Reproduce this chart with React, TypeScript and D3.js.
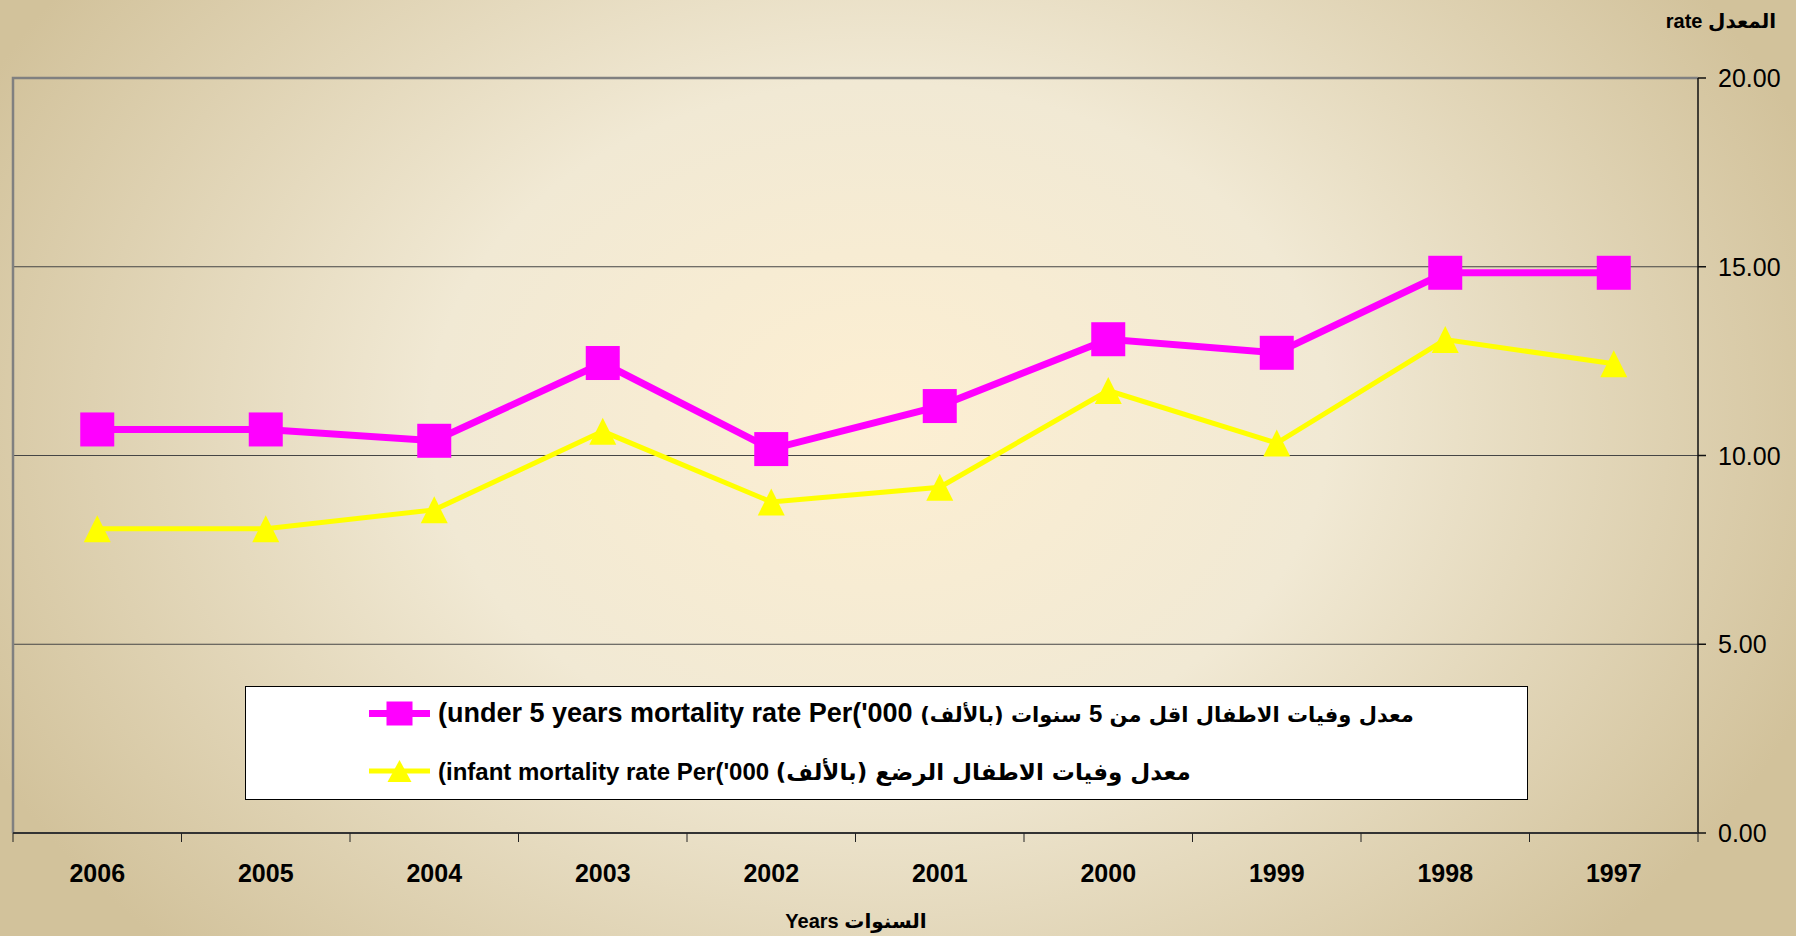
import { useEffect, useRef } from "react";
import * as d3 from "d3";

// years run right-to-left in the source (newest first on the left)
const years = ["2006", "2005", "2004", "2003", "2002", "2001", "2000", "1999", "1998", "1997"];
const under5 = [10.69, 10.69, 10.39, 12.45, 10.17, 11.31, 13.08, 12.72, 14.84, 14.84];
const infant = [8.06, 8.06, 8.56, 10.64, 8.77, 9.16, 11.72, 10.33, 13.07, 12.43];
const yTicks = [0, 5, 10, 15, 20];

// legend text pieces, in the visual order of the original (english run first, arabic run after)
const under5En = "(under 5 years mortality rate Per('000 ";
const under5Ar = ["معدل وفيات الاطفال اقل من ", "5", " سنوات (بالألف)"];
const infantEn = "(infant mortality rate Per('000 ";
const infantAr = ["معدل وفيات الاطفال الرضع (بالألف)"];
const yTitle = "rate المعدل";
const xTitle = "Years السنوات";

const W = 1796;
const H = 936;
const FONT = "'Liberation Sans', Arial, 'DejaVu Sans', sans-serif";
const AR_FONT = "'DejaVu Sans', sans-serif";

const App = () => {
  const svgRef = useRef(null);

  useEffect(() => {
    const svg = d3.select(svgRef.current);
    svg.selectAll("*").remove();

    const left = 13;
    const right = 1698;
    const top = 78;
    const bottom = 833;

    const x = d3.scaleBand().domain(years).range([left, right]);
    const y = d3.scaleLinear().domain([0, 20]).range([bottom, top]);
    const cx = (d) => x(d) + x.bandwidth() / 2;

    // background gradient
    const defs = svg.append("defs");
    const grad = defs
      .append("radialGradient")
      .attr("id", "bg")
      .attr("gradientUnits", "userSpaceOnUse")
      .attr("cx", 880)
      .attr("cy", 420)
      .attr("r", 1000)
      .attr("gradientTransform", "translate(880,420) scale(1,0.75) translate(-880,-420)");
    grad.append("stop").attr("offset", 0).attr("stop-color", "#fdefd2");
    grad.append("stop").attr("offset", 0.45).attr("stop-color", "#f1e9d4");
    grad.append("stop").attr("offset", 1).attr("stop-color", "#d2c29b");

    svg.append("rect").attr("width", W).attr("height", H).attr("fill", "url(#bg)");

    // gridlines
    svg
      .selectAll(".grid")
      .data([5, 10, 15])
      .enter()
      .append("line")
      .attr("x1", left)
      .attr("x2", right)
      .attr("y1", (d) => y(d))
      .attr("y2", (d) => y(d))
      .attr("stroke", "#454545")
      .attr("stroke-width", 1);

    // plot border (top / left)
    svg
      .append("path")
      .attr("d", `M${left},${bottom} V${top} H${right}`)
      .attr("fill", "none")
      .attr("stroke", "#808080")
      .attr("stroke-width", 2.5);

    // right value axis
    svg
      .append("line")
      .attr("x1", right)
      .attr("x2", right)
      .attr("y1", top)
      .attr("y2", bottom)
      .attr("stroke", "#111")
      .attr("stroke-width", 1.5);
    const yAx = svg.append("g");
    yAx
      .selectAll("line")
      .data(yTicks)
      .enter()
      .append("line")
      .attr("x1", right)
      .attr("x2", right + 8)
      .attr("y1", (d) => y(d))
      .attr("y2", (d) => y(d))
      .attr("stroke", "#111")
      .attr("stroke-width", 1.5);
    yAx
      .selectAll("text")
      .data(yTicks)
      .enter()
      .append("text")
      .attr("x", 1718)
      .attr("y", (d) => y(d))
      .attr("dy", "0.36em")
      .attr("font-family", FONT)
      .attr("font-size", 25)
      .attr("fill", "#000")
      .text((d) => d3.format(".2f")(d));

    // category axis at bottom
    svg
      .append("line")
      .attr("x1", left)
      .attr("x2", right)
      .attr("y1", bottom)
      .attr("y2", bottom)
      .attr("stroke", "#333")
      .attr("stroke-width", 2);
    const xAx = svg.append("g");
    xAx
      .selectAll("line")
      .data(years.concat(["end"]))
      .enter()
      .append("line")
      .attr("x1", (d, i) => left + i * x.bandwidth())
      .attr("x2", (d, i) => left + i * x.bandwidth())
      .attr("y1", bottom)
      .attr("y2", bottom + 9)
      .attr("stroke", "#222")
      .attr("stroke-width", 1);
    xAx
      .selectAll("text")
      .data(years)
      .enter()
      .append("text")
      .attr("x", cx)
      .attr("y", 873)
      .attr("dy", "0.36em")
      .attr("text-anchor", "middle")
      .attr("font-family", FONT)
      .attr("font-size", 25)
      .attr("font-weight", "bold")
      .text((d) => d);

    // axis titles
    svg
      .append("text")
      .attr("x", 856)
      .attr("y", 921)
      .attr("dy", "0.36em")
      .attr("text-anchor", "middle")
      .attr("font-family", FONT)
      .attr("font-size", 20)
      .attr("font-weight", "bold")
      .text(xTitle);
    svg
      .append("text")
      .attr("x", 1776)
      .attr("y", 28)
      .attr("text-anchor", "end")
      .attr("font-family", FONT)
      .attr("font-size", 20)
      .attr("font-weight", "bold")
      .text(yTitle);

    const line = d3
      .line()
      .x((d, i) => cx(years[i]))
      .y((d) => y(d));

    // under 5 series
    svg
      .append("path")
      .attr("d", line(under5))
      .attr("fill", "none")
      .attr("stroke", "#ff00ff")
      .attr("stroke-width", 7);
    svg
      .selectAll(".sq")
      .data(under5)
      .enter()
      .append("rect")
      .attr("x", (d, i) => cx(years[i]) - 17)
      .attr("y", (d) => y(d) - 17)
      .attr("width", 34)
      .attr("height", 34)
      .attr("fill", "#ff00ff");

    // infant series
    svg
      .append("path")
      .attr("d", line(infant))
      .attr("fill", "none")
      .attr("stroke", "#ffff00")
      .attr("stroke-width", 5);
    svg
      .selectAll(".tri")
      .data(infant)
      .enter()
      .append("path")
      .attr("d", (d, i) => {
        const px = cx(years[i]);
        const py = y(d);
        return `M${px},${py - 13.5} L${px + 13.5},${py + 13.5} L${px - 13.5},${py + 13.5} Z`;
      })
      .attr("fill", "#ffff00");

    // legend
    const lg = svg.append("g");
    lg.append("rect")
      .attr("x", 245.5)
      .attr("y", 686.5)
      .attr("width", 1282)
      .attr("height", 113)
      .attr("fill", "#fff")
      .attr("stroke", "#000")
      .attr("stroke-width", 1);

    const rows = [
      { en: under5En, ar: under5Ar, enSize: 27, arSize: 21, color: "#ff00ff", width: 7, kind: "square", y: 713.5, base: 722 },
      { en: infantEn, ar: infantAr, enSize: 24, arSize: 23, color: "#ffff00", width: 5, kind: "tri", y: 771, base: 780 },
    ];
    rows.forEach((r) => {
      lg.append("line")
        .attr("x1", 369)
        .attr("x2", 430)
        .attr("y1", r.y)
        .attr("y2", r.y)
        .attr("stroke", r.color)
        .attr("stroke-width", r.width);
      if (r.kind === "square") {
        lg.append("rect")
          .attr("x", 399.5 - 13)
          .attr("y", r.y - 12)
          .attr("width", 26)
          .attr("height", 24)
          .attr("fill", r.color);
      } else {
        lg.append("path")
          .attr("d", `M399.5,${r.y - 11} L${399.5 + 12},${r.y + 11} L${399.5 - 12},${r.y + 11} Z`)
          .attr("fill", r.color);
      }
      const t = lg
        .append("text")
        .attr("x", 438)
        .attr("y", r.base)
        .attr("font-weight", "bold")
        .attr("fill", "#000");
      t.append("tspan").attr("font-family", FONT).attr("font-size", r.enSize).text(r.en);
      r.ar.forEach((part) => {
        const isNum = /^[0-9]+$/.test(part);
        t.append("tspan")
          .attr("font-family", isNum ? FONT : AR_FONT)
          .attr("font-size", isNum ? 24 : r.arSize)
          .text(part);
      });
    });
  }, []);

  return (
    <svg
      ref={svgRef}
      width={W}
      height={H}
      style={{ position: "absolute", left: 0, top: 0, display: "block" }}
    ></svg>
  );
};

export default App;
